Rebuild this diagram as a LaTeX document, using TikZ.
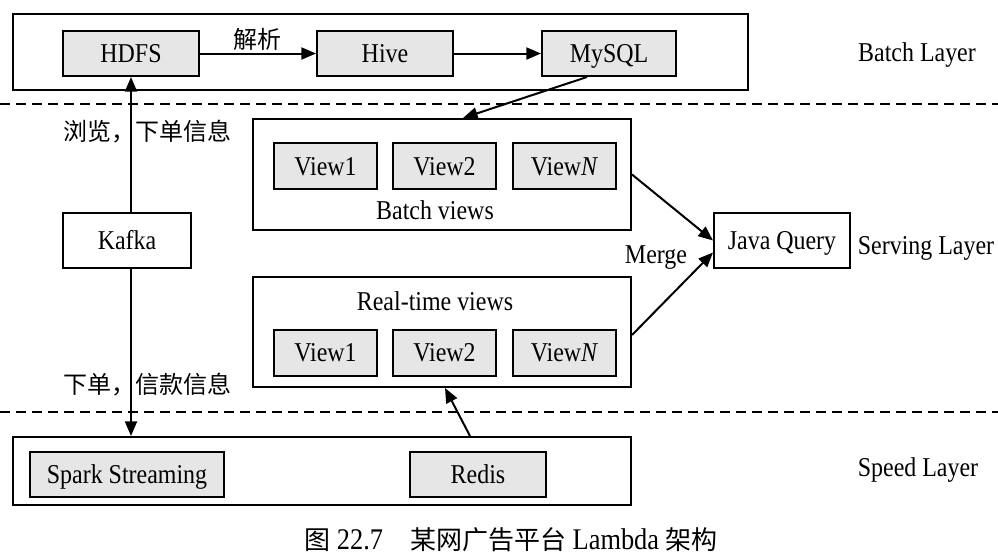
\documentclass[tikz,border=0pt]{standalone}
\usepackage{fontspec}
\setmainfont{Liberation Serif}[FakeStretch=0.88]
\newfontfamily\cjk{Noto Sans CJK SC}
\usetikzlibrary{arrows.meta,calc}
\definecolor{boxgray}{HTML}{E6E6E6}
\newcommand\lbfont{\fontsize{20.4}{23}\selectfont}
\newcommand\cjkfont{\cjk\fontsize{18}{21}\selectfont}
\newcommand\capfont{\fontsize{22.5}{25}\selectfont}
\newcommand\capcjk{\cjk\fontsize{19.5}{23}\selectfont}
\tikzset{
  sz/.style 2 args={minimum width=#1*0.75pt, minimum height=#2*0.75pt},
  txt/.style={font=\lbfont, inner sep=0pt},
  frame/.style={draw, line width=1.5pt, inner sep=0pt, fill=white},
  gbox/.style={frame, fill=boxgray, font=\lbfont, text height=13.5pt, text depth=0pt},
  wbox/.style={frame, font=\lbfont, text height=13.5pt, text depth=0pt},
  arr/.style={line width=1.5pt, -{Triangle[length=11pt,width=9pt]}},
  sep/.style={line width=1.5pt, dash pattern=on 7.5pt off 4.5pt}
}
\begin{document}
\begin{tikzpicture}[x=0.75pt, y=-0.75pt]
\useasboundingbox (0,0) rectangle (998,558);

% layer separators
\coordinate (d1l) at (0,104);
\coordinate (d1r) at (998,104);
\coordinate (d2l) at (0,412);
\coordinate (d2r) at (998,412);
\draw[sep] (d1l) -- (d1r);
\draw[sep] (d2l) -- (d2r);

% Batch layer
\node[frame, sz={735}{76}] (batch) at (380.5,52) {};
\node[gbox, sz={136}{45}] (hdfs) at (131,53.5) {HDFS};
\node[gbox, sz={136}{45}] (hive) at (385,53.5) {Hive};
\node[gbox, sz={134}{45}] (mysql) at (609,53.5) {MySQL};
\node[txt, font=\cjkfont] (jiexi) at (257,39) {解析};
\node[txt] (blayer) at (917,55) {Batch Layer};

% Serving layer
\node[frame, sz={378}{111}] (bviews) at (442,174.5) {};
\node[gbox, sz={103}{46}] (bv1) at (325.5,166) {View1};
\node[gbox, sz={103}{46}] (bv2) at (444.5,166) {View2};
\node[gbox, sz={103}{46}] (bvn) at (564.5,166) {View\textit{N}};
\node[txt] (bvlabel) at (435,210) {Batch views};

\node[frame, sz={378}{110}] (rt) at (442,332) {};
\node[gbox, sz={103}{46}] (rv1) at (325.5,352.5) {View1};
\node[gbox, sz={103}{46}] (rv2) at (444.5,352.5) {View2};
\node[gbox, sz={103}{46}] (rvn) at (564.5,352.5) {View\textit{N}};
\node[txt] (rtlabel) at (435,301) {Real-time views};

\node[wbox, sz={128}{55}] (kafka) at (127,240.5) {Kafka};
\node[wbox, sz={136}{55}] (java) at (782,240.5) {Java Query};
\node[txt] (slayer) at (926,248) {Serving Layer};
\node[txt] (merge) at (656,258) {Merge};

\node[txt, font=\cjkfont] (up) at (147,132) {浏览，下单信息};
\node[txt, font=\cjkfont] (down) at (147,385) {下单，信款信息};

% Speed layer
\node[frame, sz={618}{68}] (speed) at (322,471) {};
\node[gbox, sz={194}{45}] (spark) at (127,474.5) {Spark Streaming};
\node[gbox, sz={136}{45}] (redis) at (478,474.5) {Redis};
\node[txt] (splayer) at (918,470) {Speed Layer};

% caption
\node[txt, font=\capfont] (caption) at (511,540) {{\capcjk 图} 22.7\hspace{0.9em}{\capcjk 某网广告平台} Lambda {\capcjk 架构}};

% connectors
\draw[arr] (hdfs.east) -- (hive.west);
\draw[arr] (hive.east) -- (mysql.west);
\draw[arr] ($(mysql.south)+(-22,0)$) -- ($(bviews.north)+(21,0)$);
\draw[arr] (kafka.north -| hdfs.south) -- (hdfs.south);
\draw[arr] (kafka.south -| hdfs.south) -- (speed.north -| hdfs.south);
\draw[arr] (bviews.east) -- (java.west);
\draw[arr] ($(rt.east)+(0,3)$) -- ($(java.west)+(0,12)$);
\draw[arr] ($(speed.north)+(148,0)$) -- ($(rt.south)+(3,0)$);
\end{tikzpicture}
\end{document}
